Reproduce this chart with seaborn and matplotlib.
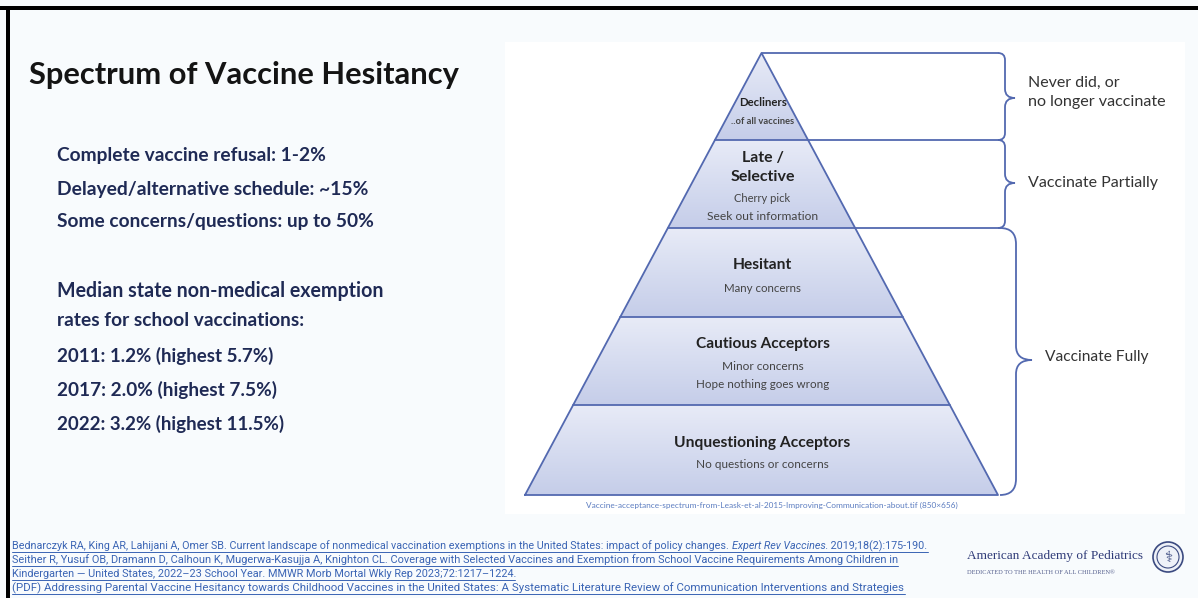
import numpy as np
import pandas as pd
import matplotlib
matplotlib.use("Agg")
import matplotlib.pyplot as plt
import seaborn as sns
from matplotlib.path import Path
from matplotlib.patches import PathPatch, Polygon, Rectangle, Circle
from matplotlib.colors import LinearSegmentedColormap

# ---------------- data ----------------
title = "Spectrum of Vaccine Hesitancy"
hesitancy_labels = ["Complete vaccine refusal", "Delayed/alternative schedule", "Some concerns/questions"]
hesitancy_values = ["1-2%", "~15%", "up to 50%"]
exemption_heading = ["Median state non-medical exemption", "rates for school vaccinations:"]
exemption_years = [2011, 2017, 2022]
exemption_median = [1.2, 2.0, 3.2]
exemption_highest = [5.7, 7.5, 11.5]

layer_names = ["Decliners", "Late /\nSelective", "Hesitant", "Cautious Acceptors", "Unquestioning Acceptors"]
layer_notes = ["..of all vaccines", "Cherry pick\nSeek out information", "Many concerns",
               "Minor concerns\nHope nothing goes wrong", "No questions or concerns"]
group_labels = ["Never did, or\nno longer vaccinate", "Vaccinate Partially", "Vaccinate Fully"]
group_first = [0, 1, 2]
group_last = [0, 1, 4]

caption = "Vaccine-acceptance-spectrum-from-Leask-et-al-2015-Improving-Communication-about.tif (850\u00d7656)"
references = [
    ["Bednarczyk RA, King AR, Lahijani A, Omer SB. Current landscape of nonmedical vaccination exemptions in the United States: impact of policy changes. ",
     "Expert Rev Vaccines.", " 2019;18(2):175-190."],
    ["Seither R, Yusuf OB, Dramann D, Calhoun K, Mugerwa-Kasujja A, Knighton CL. Coverage with Selected Vaccines and Exemption from School Vaccine Requirements Among Children in"],
    ["Kindergarten \u2014 United States, 2022\u201323 School Year. MMWR Morb Mortal Wkly Rep 2023;72:1217\u20131224."],
    ["(PDF) Addressing Parental Vaccine Hesitancy towards Childhood Vaccines in the United States: A Systematic Literature Review of Communication Interventions and Strategies"],
]
aap_name = "American Academy of Pediatrics"
aap_tagline = "DEDICATED TO THE HEALTH OF ALL CHILDREN\u00ae"

# ---------------- style ----------------
sns.set_theme(style="white")
plt.rcParams["font.family"] = ["Lato", "DejaVu Sans"]

W, H = 1198, 598
BG = "#f8fbfd"
fig = plt.figure(figsize=(W / 100, H / 100), dpi=100)
fig.patch.set_facecolor(BG)
ax = fig.add_axes([0, 0, 1, 1])
ax.set_facecolor(BG)
renderer = fig.canvas.get_renderer()

EDGE = "#5369b0"
NAVY = "#1f2a55"
LINK = "#3a64b4"


def fit_text(x, y, s, width, ha="left", va="center", **kw):
    t = ax.text(x, y, s, ha=ha, va=va, fontsize=10, **kw)
    bb = t.get_window_extent(renderer)
    t.set_fontsize(10 * width / bb.width)
    return t


# frame + white picture panel
ax.add_patch(Rectangle((505, 42), 680, 472, facecolor="white", edgecolor="none", zorder=0))
ax.add_patch(Rectangle((0, 6), W, 4, facecolor="black", edgecolor="none", zorder=5))
ax.add_patch(Rectangle((6, 6), 4, H, facecolor="black", edgecolor="none", zorder=5))

# ---------------- left text ----------------
fit_text(29, 75, title, 430, fontweight="bold", color="#141414")
hes_lines = [f"{l}: {v}" for l, v in zip(hesitancy_labels, hesitancy_values)]
hes_y = [155, 189, 222]
hes_w = [270, 312, 318]
for s, y, w in zip(hes_lines, hes_y, hes_w):
    fit_text(57, y, s, w, fontweight="bold", color=NAVY)
for s, y, w in zip(exemption_heading, [291, 321], [327, 249]):
    fit_text(57, y, s, w, fontweight="bold", color=NAVY)
ex_lines = [f"{yr}: {m:.1f}% (highest {h:.1f}%)" for yr, m, h in zip(exemption_years, exemption_median, exemption_highest)]
for s, y, w in zip(ex_lines, [356, 390, 424], [216, 220, 228]):
    fit_text(57, y, s, w, fontweight="bold", color=NAVY)

# ---------------- pyramid ----------------
apex_x, apex_y, base_y, half_base = 761.5, 53.0, 495.0, 236.5
bounds = [53, 140, 228, 317, 405, 495]


def half_w(y):
    return half_base * (y - apex_y) / (base_y - apex_y)


cmap = LinearSegmentedColormap.from_list("pyr", ["#e8ebf7", "#d6dcf0", "#c5cde9"])
grad = np.linspace(0, 1, 256).reshape(-1, 1)
for i in range(len(layer_names)):
    y0, y1 = bounds[i], bounds[i + 1]
    pts = [(apex_x - half_w(y0), y0), (apex_x + half_w(y0), y0),
           (apex_x + half_w(y1), y1), (apex_x - half_w(y1), y1)]
    poly = Polygon(pts, closed=True, facecolor="none", edgecolor="none")
    ax.add_patch(poly)
    im = ax.imshow(grad, extent=[apex_x - half_w(y1), apex_x + half_w(y1), y1, y0],
                   cmap=cmap, aspect="auto", origin="upper", zorder=1)
    im.set_clip_path(poly)

# outline segments drawn via seaborn
segs = []
segs += [("outline", apex_x - half_base, base_y), ("outline", apex_x, apex_y),
         ("outline", apex_x + half_base, base_y), ("outline", apex_x - half_base, base_y)]
for k, y in enumerate(bounds[1:-1]):
    segs += [(f"b{k}", apex_x - half_w(y), y), (f"b{k}", apex_x + half_w(y), y)]
# leader lines from pyramid to braces
segs += [("top", apex_x, apex_y), ("top", 998, apex_y)]
segs += [("l1", apex_x + half_w(140), 140), ("l1", 998, 140)]
segs += [("l2", apex_x + half_w(228), 228), ("l2", 1000, 228)]
seg_df = pd.DataFrame(segs, columns=["seg", "x", "y"])
sns.lineplot(data=seg_df, x="x", y="y", units="seg", estimator=None, sort=False,
             color=EDGE, linewidth=1.3, ax=ax, zorder=3)


def brace(xv, y0, y1, ym, tip, r, r2):
    verts = [(xv - r, y0), (xv, y0), (xv, y0 + r),
             (xv, ym - r2), (xv, ym), (tip, ym),
             (xv, ym), (xv, ym + r2),
             (xv, y1 - r), (xv, y1), (xv - r, y1)]
    codes = [Path.MOVETO, Path.CURVE3, Path.CURVE3,
             Path.LINETO, Path.CURVE3, Path.CURVE3,
             Path.CURVE3, Path.CURVE3,
             Path.LINETO, Path.CURVE3, Path.CURVE3]
    ax.add_patch(PathPatch(Path(verts, codes), facecolor="none", edgecolor=EDGE, lw=1.3, zorder=3))


brace_geo = [(1005, 98, 1015, 7, 9), (1005, 183, 1015, 7, 9), (1016, 360, 1032, 16, 14)]
for g, (xv, ym, tip, r, r2) in enumerate(brace_geo):
    brace(xv, bounds[group_first[g]], bounds[group_last[g] + 1], ym, tip, r, r2)

# layer texts
name_pos = [[(103, 48)], [(158, 42), (177, 65)], [(265, 59)], [(344, 134)], [(443, 177)]]
note_pos = [[(122, 63)], [(199, 56), (217, 111)], [(288, 77)], [(367, 82), (384, 133)], [(464, 132)]]
for i in range(len(layer_names)):
    for s, (y, w) in zip(layer_names[i].split("\n"), name_pos[i]):
        fit_text(apex_x + 1, y, s, w, ha="center", fontweight="bold", color="#222222", zorder=4)
    for s, (y, w) in zip(layer_notes[i].split("\n"), note_pos[i]):
        fit_text(apex_x + 1, y, s, w, ha="center", color="#444444", zorder=4,
                 fontweight="bold" if i == 0 else "normal")

# group labels
grp_pos = [[(1028, 83, 92), (1028, 102, 138)], [(1028, 183, 130)], [(1045, 357, 103)]]
for g, lab in enumerate(group_labels):
    for s, (x, y, w) in zip(lab.split("\n"), grp_pos[g]):
        fit_text(x, y, s, w, color="#333333")

fit_text(772, 505, caption, 370, ha="center", color="#5b7cc0")

# ---------------- references ----------------
ref_y = [546, 560, 574, 588]
ref_w = [916, 886, 503, 893]
fig.canvas.draw()
for parts, y, w in zip(references, ref_y, ref_w):
    size = 8.0
    texts = []
    for _ in range(2):
        for t in texts:
            t.remove()
        texts = []
        x = 12
        for k, p in enumerate(parts):
            t = ax.text(x, y, p, ha="left", va="center", fontsize=size, color=LINK,
                        family=["Liberation Sans Narrow", "Roboto", "DejaVu Sans"],
                        style="italic" if (len(parts) == 3 and k == 1) else "normal")
            bb = t.get_window_extent(renderer)
            x += bb.width
            texts.append(t)
        total = x - 12
        size = size * w / total
    ax.plot([12, 12 + w], [y + 6, y + 6], color=LINK, lw=0.7)

# ---------------- AAP logo ----------------
fit_text(967, 556, aap_name, 176, color="#2f3b78", family=["Liberation Serif", "DejaVu Serif"])
fit_text(967, 572, aap_tagline, 149, color="#56608e", family=["Liberation Serif", "DejaVu Serif"])
ax.add_patch(Circle((1168, 557), 15, facecolor="#eef1f8", edgecolor="#3b4a80", lw=1.2, zorder=4))
ax.add_patch(Circle((1168, 557), 11, facecolor="none", edgecolor="#3b4a80", lw=0.8, zorder=4))
ax.text(1168, 557, "\u2695", ha="center", va="center", fontsize=11, color="#3b4a80",
        family=["DejaVu Sans"], zorder=5)

ax.set_xlim(0, W)
ax.set_ylim(H, 0)
ax.axis("off")
fig.savefig("out.png", dpi=100, facecolor=fig.get_facecolor())
